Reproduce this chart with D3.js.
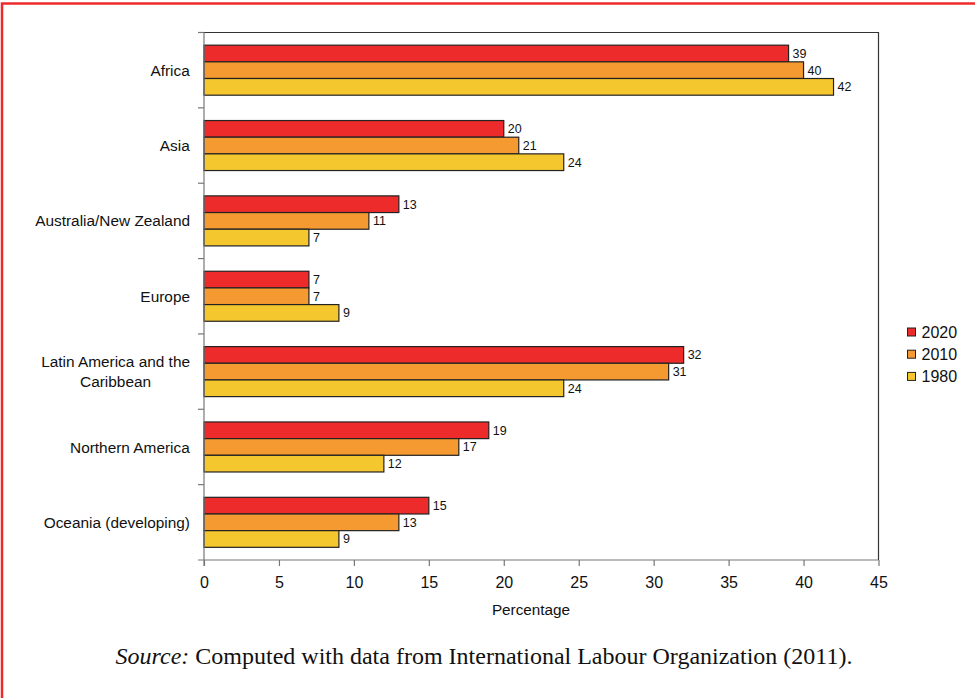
<!DOCTYPE html>
<html>
<head>
<meta charset="utf-8">
<script src="https://cdn.jsdelivr.net/npm/d3@7"></script>
<style>
  body { margin: 0; background: #fff; }
  svg { display: block; }
</style>
</head>
<body>
<svg id="chart" width="975" height="698"></svg>
<script>
// regions, top to bottom
const regions = ["Africa", "Asia", "Australia/New Zealand", "Europe",
    "Latin America and the Caribbean", "Northern America", "Oceania (developing)"];
const years = ["2020", "2010", "1980"];
const v2020 = [39, 20, 13, 7, 32, 19, 15];
const v2010 = [40, 21, 11, 7, 31, 17, 13];
const v1980 = [42, 24, 7, 9, 24, 12, 9];
const xTicks = [0, 5, 10, 15, 20, 25, 30, 35, 40, 45];

const colors = ["#ee2b2b", "#f49a30", "#f5c72e"];
const series = [v2020, v2010, v1980];
const font = "Liberation Sans, Arial, sans-serif";

const svg = d3.select("#chart");

// red frame round the figure
svg.append("rect")
    .attr("x", 2).attr("y", 3.5)
    .attr("width", 1000).attr("height", 720)
    .attr("fill", "none")
    .attr("stroke", "#ee2b2b")
    .attr("stroke-width", 2.5);

const margin = {left: 204, top: 32.5, right: 878.5, bottom: 560};

const x = d3.scaleLinear()
    .domain([0, 45])
    .range([margin.left, margin.right]);

const y = d3.scaleBand()
    .domain(regions)
    .range([margin.top, margin.bottom]);

const inner = d3.scaleBand()
    .domain(years)
    .range([0, y.bandwidth()])
    .paddingOuter(0.76);

// plot frame (top + right black)
svg.append("path")
    .attr("d", `M${margin.left},${margin.top}H${margin.right}V${margin.bottom}`)
    .attr("fill", "none")
    .attr("stroke", "#333")
    .attr("stroke-width", 1.2);

// bars
regions.forEach((r, i) => {
    const g = svg.append("g").attr("transform", `translate(0,${y(r)})`);
    g.selectAll("rect")
        .data(years)
        .join("rect")
        .attr("x", x(0))
        .attr("y", d => inner(d))
        .attr("width", (d, j) => x(series[j][i]) - x(0))
        .attr("height", inner.bandwidth())
        .attr("fill", (d, j) => colors[j])
        .attr("stroke", "#222")
        .attr("stroke-width", 1.2);
    g.selectAll("text")
        .data(years)
        .join("text")
        .attr("x", (d, j) => x(series[j][i]) + 4)
        .attr("y", d => inner(d) + inner.bandwidth() / 2)
        .attr("dy", "0.36em")
        .attr("font-family", font)
        .attr("font-size", 12.5)
        .attr("fill", "#111")
        .text((d, j) => series[j][i]);
});

// left axis
const yAxis = svg.append("g")
    .attr("transform", `translate(${margin.left},0)`);
yAxis.append("line")
    .attr("y1", margin.top).attr("y2", margin.bottom + 6)
    .attr("stroke", "#777").attr("stroke-width", 1.2);
yAxis.selectAll(".tk")
    .data(regions.slice(1).map(r => y(r)).concat([margin.top]))
    .join("line")
    .attr("x1", -6).attr("x2", 0)
    .attr("y1", d => d).attr("y2", d => d)
    .attr("stroke", "#777").attr("stroke-width", 1.2);

// category labels (wrap the long one)
const lines = {"Latin America and the Caribbean": ["Latin America and the", "Caribbean"]};
regions.forEach(r => {
    const parts = lines[r] || [r];
    const t = svg.append("text")
        .attr("text-anchor", "middle")
        .attr("font-family", font)
        .attr("font-size", 15.4)
        .attr("fill", "#111");
    const cy = y(r) + y.bandwidth() / 2;
    parts.forEach((p, k) => {
        t.append("tspan")
            .attr("x", 0)
            .attr("y", cy + (k - (parts.length - 1) / 2) * 19.5)
            .attr("dy", "0.36em")
            .text(p);
    });
    const w = t.node().getBBox().width;
    t.attr("transform", `translate(${190 - w / 2},0)`);
});

// bottom axis
const xAxis = d3.axisBottom(x)
    .tickValues(xTicks)
    .tickSize(6)
    .tickSizeOuter(0)
    .tickPadding(11);
const xg = svg.append("g")
    .attr("transform", `translate(0,${margin.bottom})`)
    .call(xAxis);
xg.select(".domain").attr("stroke", "#777").attr("stroke-width", 1.2)
    .attr("d", `M${margin.left - 6},0H${margin.right}`);
xg.selectAll(".tick line").attr("stroke", "#777").attr("stroke-width", 1.2);
xg.selectAll(".tick text")
    .attr("font-family", font)
    .attr("font-size", 16)
    .attr("fill", "#111");

svg.append("text")
    .attr("x", 531)
    .attr("y", 615)
    .attr("text-anchor", "middle")
    .attr("font-family", font)
    .attr("font-size", 15.3)
    .attr("fill", "#111")
    .text("Percentage");

// legend
const legend = svg.append("g").attr("transform", "translate(907.5,332)");
years.forEach((yr, j) => {
    legend.append("rect")
        .attr("x", 0).attr("y", j * 22.2 - 4)
        .attr("width", 8).attr("height", 8)
        .attr("fill", colors[j])
        .attr("stroke", "#222");
    legend.append("text")
        .attr("x", 14).attr("y", j * 22.2)
        .attr("dy", "0.36em")
        .attr("font-family", font)
        .attr("font-size", 16)
        .attr("fill", "#111")
        .text(yr);
});

// source note
const src = svg.append("text")
    .attr("x", 484)
    .attr("y", 664)
    .attr("text-anchor", "middle")
    .attr("font-family", "Liberation Serif, Times New Roman, serif")
    .attr("font-size", 24)
    .attr("fill", "#111");
src.append("tspan").attr("font-style", "italic").text("Source:");
src.append("tspan").text(" Computed with data from International Labour Organization (2011).");
</script>
</body>
</html>
